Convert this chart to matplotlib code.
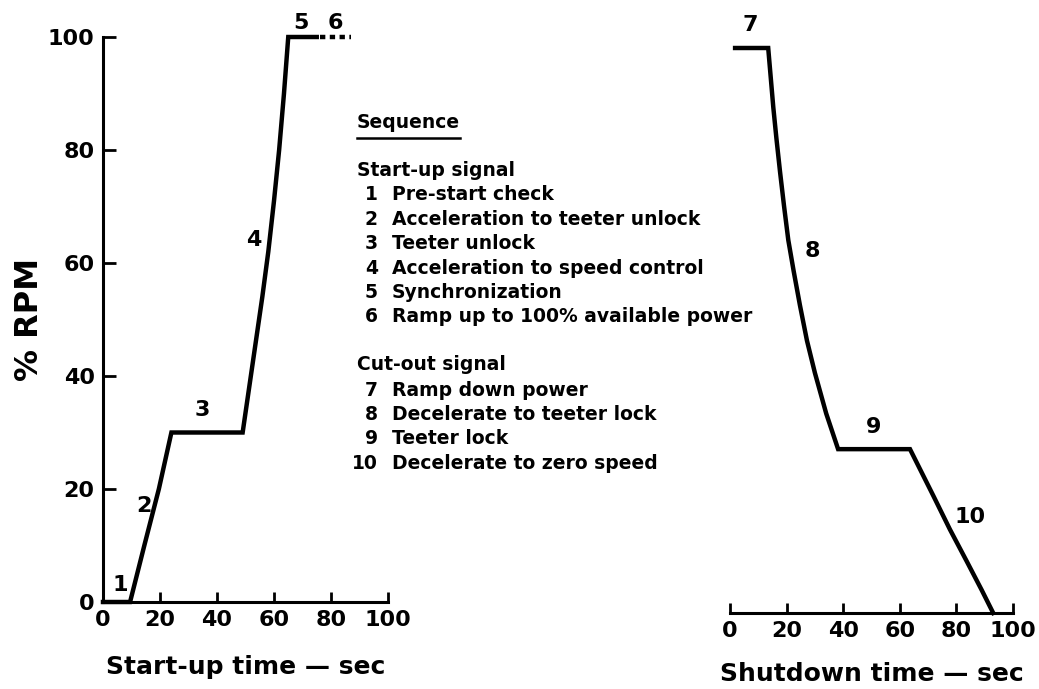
import matplotlib
matplotlib.use("Agg")
import matplotlib.pyplot as plt
from matplotlib.lines import Line2D

# start-up run (sec, % RPM)
startup_time = [0, 9.5, 14.5, 19.6, 24, 49, 51.3, 53.6, 55.9, 58, 60, 61.8, 63.5, 65, 75]
startup_rpm = [0, 0, 10, 20, 30, 30, 38, 46, 54, 62, 71, 80, 90, 100, 100]
ramp_time = [76, 87]
ramp_rpm = [100, 100]

# shutdown run (sec, % RPM)
shutdown_time = [1.8, 13.5, 15.3, 16.4, 17.7, 19.1, 20.6, 22.5, 24.7, 27.2,
                 30, 34, 38.2, 63.6, 71.8, 77.7, 83.6, 88.9, 93]
shutdown_rpm = [100, 100, 89.5, 84, 78, 72, 66, 60.5, 54.5, 48.2,
                42.5, 35.3, 29, 29, 20.8, 14.8, 9.2, 4.1, 0]

# step numbers written next to the curves
startup_marks = ["1", "2", "3", "4", "5", "6"]
startup_mark_t = [6, 14.5, 35, 53, 69.5, 81.5]
startup_mark_rpm = [3, 17, 34, 64, 102.5, 102.5]
shutdown_marks = ["7", "8", "9", "10"]
shutdown_mark_t = [7, 29, 50.6, 85]
shutdown_mark_rpm = [104, 64, 33, 17]

time_ticks = [0, 20, 40, 60, 80, 100]
rpm_ticks = [0, 20, 40, 60, 80, 100]

startup_steps = ["Pre-start check", "Acceleration to teeter unlock",
                 "Teeter unlock", "Acceleration to speed control",
                 "Synchronization", "Ramp up to 100% available power"]
shutdown_steps = ["Ramp down power", "Decelerate to teeter lock",
                  "Teeter lock", "Decelerate to zero speed"]

W, H = 1039, 689
FONT = "DejaVu Sans"
LW = 3.2


def px(x, y):
    # pixel position -> figure fraction
    return x / W, 1 - y / H


def style_axis(ax, show_y):
    ax.set_xlim(0, 100)
    ax.set_ylim(0, 100)
    for side in ["top", "right"]:
        ax.spines[side].set_visible(False)
    ax.spines["left"].set_visible(show_y)
    for sp in ax.spines.values():
        sp.set_linewidth(2.2)
    ax.set_xticks(time_ticks)
    ax.tick_params(axis="x", direction="in", length=7, width=2, pad=6)
    if show_y:
        ax.set_yticks(rpm_ticks)
        ax.tick_params(axis="y", direction="in", length=9, width=2, pad=6)
    else:
        ax.set_yticks([])
    for lab in ax.get_xticklabels() + ax.get_yticklabels():
        lab.set_fontfamily(FONT)
        lab.set_fontweight("bold")
        lab.set_fontsize(16)


fig = plt.figure(figsize=(W / 100, H / 100), dpi=100)

# left panel: start-up
ax1 = fig.add_axes([103 / W, 87 / H, 285 / W, 565 / H])
ax1.plot(startup_time, startup_rpm, color="black", lw=LW, clip_on=False,
         solid_joinstyle="miter")
ax1.plot(ramp_time, ramp_rpm, color="black", lw=LW, clip_on=False,
         linestyle=(0, (1.2, 1.0)))
style_axis(ax1, True)
ax1.set_xlabel("Start-up time \u2014 sec", fontfamily=FONT,
               fontweight="bold", fontsize=18, labelpad=18)
ax1.set_ylabel("% RPM", fontfamily=FONT, fontweight="bold",
               fontsize=23, labelpad=2)
for s, t, r in zip(startup_marks, startup_mark_t, startup_mark_rpm):
    ax1.text(t, r, s, ha="center", va="center", fontfamily=FONT,
             fontweight="bold", fontsize=16)

# right panel: shutdown
ax2 = fig.add_axes([730 / W, 76 / H, 283 / W, 565 / H])
ax2.plot(shutdown_time, shutdown_rpm, color="black", lw=LW, clip_on=False,
         solid_joinstyle="miter")
style_axis(ax2, False)
ax2.set_xlabel("Shutdown time \u2014 sec", fontfamily=FONT,
               fontweight="bold", fontsize=18, labelpad=15)
for s, t, r in zip(shutdown_marks, shutdown_mark_t, shutdown_mark_rpm):
    ax2.text(t, r, s, ha="center", va="center", fontfamily=FONT,
             fontweight="bold", fontsize=16)

# sequence legend in the middle
txt = dict(fontfamily=FONT, fontweight="bold", fontsize=13.5, va="center")
fig.text(*px(357, 122), "Sequence", ha="left", **txt)
x0, y0 = px(357, 138)
x1, _ = px(460, 138)
fig.add_artist(Line2D([x0, x1], [y0, y0], color="black", lw=1.8,
                      transform=fig.transFigure))

fig.text(*px(357, 170), "Start-up signal", ha="left", **txt)
for i, step in enumerate(startup_steps):
    y = 195 + i * 24.4
    fig.text(*px(378, y), str(i + 1), ha="right", **txt)
    fig.text(*px(392, y), step, ha="left", **txt)

fig.text(*px(357, 365), "Cut-out signal", ha="left", **txt)
for i, step in enumerate(shutdown_steps):
    y = 390 + i * 24.4
    fig.text(*px(378, y), str(i + 7), ha="right", **txt)
    fig.text(*px(392, y), step, ha="left", **txt)

fig.savefig("out.png", dpi=100)
